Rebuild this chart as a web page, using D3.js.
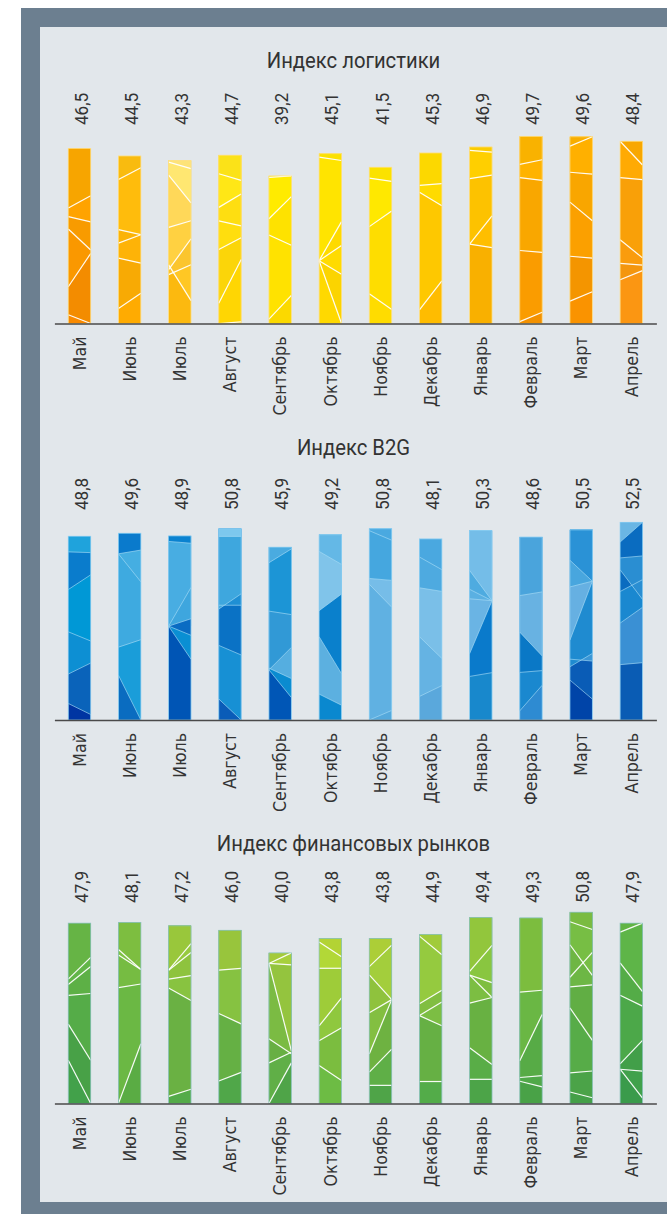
<!DOCTYPE html>
<html>
<head>
<meta charset="utf-8">
<script src="https://cdn.jsdelivr.net/npm/d3@7"></script>
<style>
  body { margin: 0; background: #fff; }
  svg { display: block; }
</style>
</head>
<body>
<svg id="chart" width="667" height="1214"></svg>
<script>
// data
const months = ["Май", "Июнь", "Июль", "Август", "Сентябрь", "Октябрь", "Ноябрь", "Декабрь", "Январь", "Февраль", "Март", "Апрель"];
const chartTitles = ["Индекс логистики", "Индекс B2G", "Индекс финансовых рынков"];
const logisticsValues = [46.5, 44.5, 43.3, 44.7, 39.2, 45.1, 41.5, 45.3, 46.9, 49.7, 49.6, 48.4];
const b2gValues = [48.8, 49.6, 48.9, 50.8, 45.9, 49.2, 50.8, 48.1, 50.3, 48.6, 50.5, 52.5];
const financeValues = [47.9, 48.1, 47.2, 46.0, 40.0, 43.8, 43.8, 44.9, 49.4, 49.3, 50.8, 47.9];

// bar colours (top / bottom of each bar)
const logisticsTop = ["#f8aa00", "#f9bc10", "#fde47a", "#fbe41a", "#fbe400", "#fbe100", "#fbe200", "#fcdc00", "#fbcc00", "#f9b400", "#f8ae00", "#f8a800"];
const logisticsBottom = ["#f28600", "#f7a400", "#f9b200", "#fbcc00", "#fbd800", "#fbd000", "#fbd600", "#fab400", "#f8a800", "#f39000", "#f28c00", "#f28e14"];
const financeTop = ["#6cb844", "#82c040", "#a0ca3a", "#a2ca3a", "#a6cb3a", "#b6d433", "#b2d136", "#a4cc3a", "#9ccb3a", "#8ac43c", "#7cbc41", "#62b444"];
const financeBottom = ["#3d9a48", "#56aa44", "#4fa547", "#47a048", "#48a048", "#62b344", "#48a048", "#4aa448", "#45a048", "#45a048", "#449f48", "#38984a"];
// blue facets, listed top to bottom
const b2gColors = [
  ["#1fa3dc", "#0a7ccc", "#0098d6", "#0d8fd3", "#0a63ba", "#0035a2"],
  ["#0a7acc", "#45aee2", "#3eaae0", "#1a9dd9", "#0a6cc0"],
  ["#0a82d0", "#48ade2", "#3ea6de", "#0a6cc3", "#0a8fd3", "#0055b5"],
  ["#7cc8ee", "#3ea7de", "#1f8fd4", "#0a72c5", "#1790d4", "#0a5cb8"],
  ["#4aabe0", "#1c95d6", "#3199d6", "#55aee0", "#0a8bd0", "#0056b6"],
  ["#64b8e6", "#80c4ea", "#0a80cc", "#5cb0e0", "#0a88cf"],
  ["#4aa9e0", "#45a7df", "#76bde8", "#60b1e2", "#55a9dc"],
  ["#4aa8e0", "#4eaae0", "#7abfe8", "#65b3e3", "#5aa8dc"],
  ["#74bde8", "#4eabe0", "#5ab0e2", "#6ab4e4", "#0a7acb", "#1888cc"],
  ["#4aa4dc", "#68b2e2", "#0a78c6", "#1a88cf", "#2e8bd2"],
  ["#2a92d6", "#48a6de", "#66b0e2", "#1f8bd0", "#3a96d6", "#0a5cb6", "#0044a8"],
  ["#6ab6e4", "#0a6cc0", "#2a8ed2", "#0a6cc0", "#1a88d0", "#3a90d4", "#0a5cb4"]
];

// facet cut lines inside each bar: [left edge, right edge] as share of bar height
const logisticsCuts = [
  [[0.66, 0.73], [0.61, 0.58], [0.54, 0.42], [0.21, 0.4], [0.05, 0.0]],
  [[0.86, 0.93], [0.56, 0.53], [0.48, 0.53], [0.39, 0.36], [0.09, 0.18]],
  [[0.99, 0.95], [0.91, 0.74], [0.59, 0.63], [0.33, 0.52], [0.3, 0.36], [0.36, 0.14]],
  [[0.89, 0.85], [0.69, 0.77], [0.61, 0.58], [0.44, 0.51], [0.12, 0.38], [0.0, 0.01]],
  [[0.99, 1.0], [0.71, 0.86], [0.6, 0.53], [0.03, 0.19]],
  [[0.98, 0.96], [0.37, 0.6], [0.37, 0.46], [0.37, 0.29], [0.37, 0.0]],
  [[0.93, 0.91], [0.62, 0.72], [0.19, 0.09]],
  [[0.81, 0.82], [0.77, 0.69], [0.08, 0.25]],
  [[0.98, 0.97], [0.82, 0.84], [0.45, 0.61], [0.45, 0.43]],
  [[0.85, 0.875], [0.78, 0.765], [0.39, 0.38], [0.01, 0.06]],
  [[0.95, 1.0], [0.81, 0.8], [0.65, 0.55], [0.36, 0.35], [0.12, 0.17]],
  [[1.0, 0.87], [0.8, 0.79], [0.46, 0.36], [0.33, 0.32], [0.24, 0.29]]
];
const b2gCuts = [
  [[0.915, 0.911], [0.71, 0.79], [0.48, 0.43], [0.25, 0.31], [0.09, 0.03]],
  [[0.89, 0.91], [0.89, 0.74], [0.39, 0.43], [0.24, 0.0]],
  [[0.97, 0.96], [0.51, 0.72], [0.51, 0.55], [0.51, 0.46], [0.51, 0.33]],
  [[0.96, 0.96], [0.58, 0.66], [0.6, 0.6], [0.39, 0.34], [0.11, 0.0]],
  [[0.91, 0.99], [0.63, 0.61], [0.29, 0.42], [0.3, 0.24], [0.29, 0.13]],
  [[0.91, 0.84], [0.59, 0.68], [0.45, 0.25], [0.14, 0.08]],
  [[0.99, 0.94], [0.74, 0.73], [0.71, 0.59], [0.0, 0.05]],
  [[0.9, 0.83], [0.73, 0.71], [0.46, 0.34], [0.13, 0.19]],
  [[0.79, 0.63], [0.69, 0.63], [0.64, 0.63], [0.35, 0.63], [0.23, 0.25]],
  [[0.68, 0.7], [0.48, 0.35], [0.26, 0.27], [0.05, 0.19]],
  [[0.84, 0.73], [0.7, 0.73], [0.42, 0.73], [0.28, 0.35], [0.32, 0.31], [0.21, 0.11]],
  [[0.9, 1.0], [0.82, 0.83], [0.76, 0.61], [0.65, 0.71], [0.49, 0.57], [0.28, 0.29]]
];
const financeCuts = [
  [[0.69, 0.81], [0.66, 0.76], [0.6, 0.61], [0.44, 0.24], [0.24, 0.0]],
  [[0.85, 0.74], [0.82, 0.74], [0.64, 0.66], [0.0, 0.33]],
  [[0.75, 0.9], [0.75, 0.85], [0.7, 0.72], [0.65, 0.58], [0.04, 0.08]],
  [[0.77, 0.78], [0.52, 0.46], [0.13, 0.18]],
  [[0.93, 1.0], [0.93, 0.92], [0.93, 0.35], [0.43, 0.33], [0.27, 0.34], [0.0, 0.27]],
  [[0.98, 0.89], [0.82, 0.82], [0.47, 0.64], [0.38, 0.46], [0.23, 0.14]],
  [[0.83, 0.96], [0.78, 0.63], [0.55, 0.63], [0.3, 0.63], [0.19, 0.33], [0.11, 0.11]],
  [[0.99, 0.88], [0.59, 0.67], [0.52, 0.6], [0.52, 0.46], [0.13, 0.13]],
  [[0.71, 0.85], [0.69, 0.65], [0.69, 0.57], [0.54, 0.57], [0.3, 0.21], [0.13, 0.13]],
  [[0.6, 0.61], [0.23, 0.48], [0.14, 0.15], [0.12, 0.09]],
  [[0.95, 0.91], [0.83, 0.67], [0.66, 0.79], [0.61, 0.62], [0.5, 0.33], [0.16, 0.17], [0.06, 0.03]],
  [[0.95, 1.0], [0.78, 0.62], [0.6, 0.54], [0.22, 0.35], [0.19, 0.18], [0.19, 0.03]]
];
const shadeSteps = [0, 0.1, 0.03, 0.07, 0, 0.09, 0.02];

const svg = d3.select("#chart");
const labelFont = "'DejaVu Sans', sans-serif";
const narrowFont = "Roboto, 'Noto Sans', sans-serif";

// squeeze text to imitate the condensed face
function squeeze(sel, f) {
  sel.each(function() {
    const len = this.getComputedTextLength();
    this.setAttribute("textLength", len * f);
    this.setAttribute("lengthAdjust", "spacingAndGlyphs");
  });
}

// colours for facets from a top/bottom gradient
function gradientColors(top, bottom, cuts) {
  const n = cuts.length;
  const lv = cuts.map(c => (c[0] + c[1]) / 2);
  const mix = d3.interpolateRgb(bottom, top);
  return d3.range(n + 1).map(j => {
    const hi = j === 0 ? 1 : lv[j - 1];
    const lo = j === n ? 0 : lv[j];
    const c = d3.color(mix((hi + lo) / 2));
    return c.brighter(shadeSteps[j % shadeSteps.length]).formatHex();
  });
}

// frame
svg.append("rect").attr("x", 21).attr("y", 8).attr("width", 646).attr("height", 1206).attr("fill", "#6c7f90");
svg.append("rect").attr("x", 40).attr("y", 27).attr("width", 627).attr("height", 1175).attr("fill", "#e2e7eb");

const x = d3.scaleBand()
  .domain(months)
  .range([54.4, 656.4])
  .paddingInner(0.553)
  .paddingOuter(0.2765);

const charts = [
  { title: chartTitles[0], values: logisticsValues, cuts: logisticsCuts, axisY: 323.5, titleY: 68, labelY: 125,
    colors: (i, cuts) => gradientColors(logisticsTop[i], logisticsBottom[i], cuts),
    line: "#ffffff", lineWidth: 1.2, lineOpacity: 0.95, outline: "#fde08a" },
  { title: chartTitles[1], values: b2gValues, cuts: b2gCuts, axisY: 720, titleY: 455, labelY: 510,
    colors: i => b2gColors[i],
    line: "#a8dcf6", lineWidth: 0.8, lineOpacity: 0.8, outline: "#8fd0f2" },
  { title: chartTitles[2], values: financeValues, cuts: financeCuts, axisY: 1103.5, titleY: 851, labelY: 903,
    colors: (i, cuts) => gradientColors(financeTop[i], financeBottom[i], cuts),
    line: "#ffffff", lineWidth: 1.2, lineOpacity: 0.95, outline: "#8cc3bd" }
];

charts.forEach(chart => {
  const y = d3.scaleLinear()
    .domain([0, 50])
    .range([chart.axisY, chart.axisY - 188.25]);

  const g = svg.append("g");

  // title
  g.append("text")
    .attr("x", 353.5)
    .attr("y", chart.titleY)
    .attr("text-anchor", "middle")
    .attr("font-family", narrowFont)
    .attr("font-size", 22)
    .attr("fill", "#333")
    .text(chart.title)
    .call(squeeze, 0.92);

  // bars with facets
  const bars = g.selectAll("g.bar")
    .data(chart.values)
    .join("g")
    .attr("class", "bar");

  bars.each(function(v, i) {
    const bar = d3.select(this);
    const x0 = x(months[i]);
    const x1 = x0 + x.bandwidth();
    const yTop = y(v);
    const yBot = y(0);
    const fy = f => yBot + (yTop - yBot) * Math.max(0, Math.min(1, f));
    const cuts = chart.cuts[i].slice().sort((a, b) => (b[0] + b[1]) - (a[0] + a[1]));
    const cols = chart.colors(i, cuts);
    const n = cuts.length;

    bar.append("rect")
      .attr("x", x0).attr("y", yTop)
      .attr("width", x.bandwidth()).attr("height", yBot - yTop)
      .attr("fill", cols[n]);

    for (let j = n - 1; j >= 0; j--) {
      const c = cuts[j];
      bar.append("polygon")
        .attr("points", [[x0, fy(c[0])], [x1, fy(c[1])], [x1, yTop], [x0, yTop]].join(" "))
        .attr("fill", cols[j]);
    }

    bar.selectAll("line.cut")
      .data(cuts)
      .join("line")
      .attr("class", "cut")
      .attr("x1", x0).attr("y1", c => fy(c[0]))
      .attr("x2", x1).attr("y2", c => fy(c[1]))
      .attr("stroke", chart.line)
      .attr("stroke-width", chart.lineWidth)
      .attr("stroke-opacity", chart.lineOpacity);

    bar.append("rect")
      .attr("x", x0).attr("y", yTop)
      .attr("width", x.bandwidth()).attr("height", yBot - yTop)
      .attr("fill", "none")
      .attr("stroke", chart.outline)
      .attr("stroke-width", 0.8);
  });

  // value labels
  g.selectAll("text.value")
    .data(chart.values)
    .join("text")
    .attr("class", "value")
    .attr("transform", (d, i) => `translate(${x(months[i]) + x.bandwidth() / 2 + 1.5},${chart.labelY}) rotate(-90)`)
    .attr("dy", "0.35em")
    .attr("font-family", narrowFont)
    .attr("font-size", 19)
    .attr("fill", "#333")
    .text(d => d3.format(".1f")(d).replace(".", ","))
    .call(squeeze, 0.9);

  // axis with month labels
  const axis = g.append("g")
    .attr("transform", `translate(0,${chart.axisY})`)
    .call(d3.axisBottom(x).tickSize(0).tickSizeOuter(0));

  axis.select(".domain")
    .attr("stroke", "#4a4a4a")
    .attr("stroke-width", 1.6);

  axis.selectAll(".tick text")
    .attr("transform", "rotate(-90)")
    .attr("x", -13)
    .attr("y", 0)
    .attr("dy", "0.35em")
    .attr("text-anchor", "end")
    .attr("font-family", labelFont)
    .attr("font-size", 18)
    .attr("fill", "#333")
    .call(squeeze, 0.88);
});
</script>
</body>
</html>
